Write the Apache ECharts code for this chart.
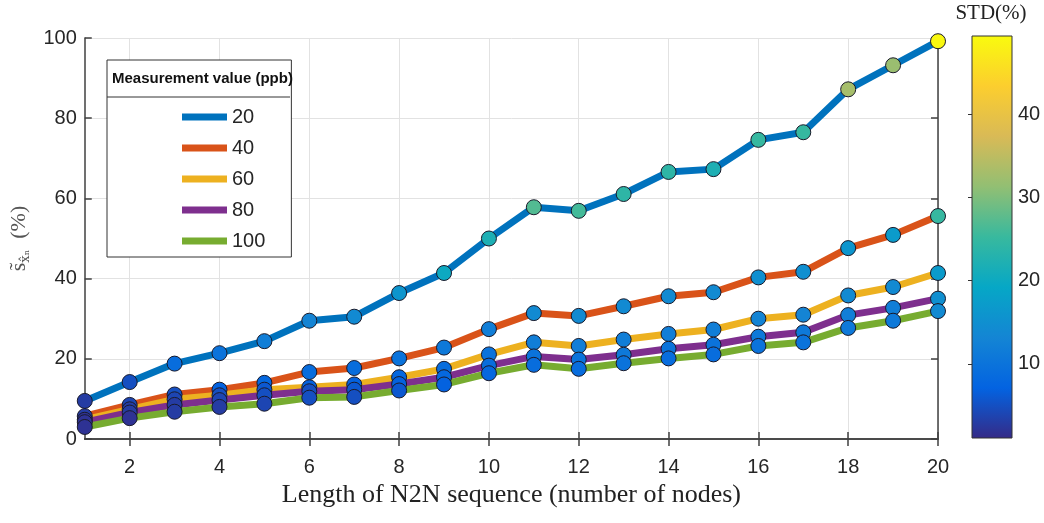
<!DOCTYPE html>
<html>
<head>
<meta charset="utf-8">
<script src="https://cdn.jsdelivr.net/npm/echarts@6/dist/echarts.min.js"></script>
<style>
html, body { margin: 0; padding: 0; background: #fff; }
#chart { width: 1044px; height: 523px; }
</style>
</head>
<body>
<div id="chart"></div>
<script>
// sequence length (number of nodes)
const nodes = [1, 2, 3, 4, 5, 6, 7, 8, 9, 10, 11, 12, 13, 14, 15, 16, 17, 18, 19, 20]
// measurement value (ppb) -> legend names
const levels = ['20', '40', '60', '80', '100']

// s~ (%) per level
const s20 = [9.5, 14.2, 18.8, 21.4, 24.4, 29.5, 30.5, 36.4, 41.4, 50.0, 57.8, 56.9, 61.1, 66.6, 67.3, 74.6, 76.5, 87.2, 93.2, 99.2]
const s40 = [5.7, 8.5, 11.1, 12.3, 14.0, 16.7, 17.7, 20.1, 22.8, 27.4, 31.4, 30.7, 33.1, 35.6, 36.6, 40.3, 41.7, 47.6, 50.9, 55.6]
const s60 = [4.8, 7.4, 9.9, 10.9, 12.3, 12.9, 13.6, 15.4, 17.5, 21.1, 24.1, 23.2, 24.8, 26.2, 27.3, 30.0, 31.0, 35.8, 37.9, 41.4]
const s80 = [4.2, 6.6, 8.5, 9.7, 10.9, 11.9, 12.3, 13.7, 15.4, 18.3, 20.6, 19.8, 21.0, 22.5, 23.5, 25.5, 26.6, 30.9, 32.7, 35.0]
const s100 = [3.0, 5.2, 6.8, 8.0, 8.8, 10.3, 10.5, 12.1, 13.6, 16.4, 18.5, 17.5, 18.9, 20.1, 21.1, 23.2, 24.1, 27.7, 29.5, 31.9]

// STD (%) per point, drives marker colour
const std20 = [3, 5, 9, 10, 12, 13, 14, 16, 20, 22, 27, 26, 24, 24, 22, 25, 25, 33, 32, 49]
const std40 = [3, 4, 5, 7, 8, 9, 9, 10, 11, 12, 14, 14, 14, 14, 14, 15, 15, 16, 17, 25]
const std60 = [2, 3, 4, 5, 6, 7, 7, 8, 9, 10, 12, 12, 12, 12, 12, 13, 13, 14, 14, 17]
const std80 = [2, 3, 3, 4, 5, 5, 6, 7, 8, 9, 10, 10, 11, 10, 10, 11, 11, 12, 12, 15]
const std100 = [2, 2, 3, 3, 4, 5, 5, 6, 7, 8, 9, 9, 10, 9, 9, 10, 10, 11, 11, 14]

const xTicks = [2, 4, 6, 8, 10, 12, 14, 16, 18, 20]
const stdTicks = [10, 20, 30, 40]
const stdMin = 1.1
const stdMax = 49.4

const lineColors = ['#0072BD', '#D95319', '#EDB120', '#7E2F8E', '#77AC30']
const parula = ['#352a87', '#0363e1', '#1485d4', '#06a7c6', '#38b99e', '#92bf73', '#d9ba56', '#fcce2e', '#f9fb0e']

const values = [s20, s40, s60, s80, s100]
const stds = [std20, std40, std60, std80, std100]

const chart = echarts.init(document.getElementById('chart'))

const lineSeries = levels.map((name, i) => ({
	name: name,
	type: 'line',
	symbol: 'none',
	clip: false,
	color: lineColors[i],
	lineStyle: { width: 7, color: lineColors[i] },
	z: 2,
	data: nodes.map((n, k) => [n, values[i][k]])
}))

const markerSeries = levels.map((name, i) => ({
	name: name + ' std',
	type: 'scatter',
	symbol: 'circle',
	symbolSize: 15,
	clip: false,
	z: 3,
	itemStyle: { borderColor: '#1a1a2a', borderWidth: 1, opacity: 1 },
	data: nodes.map((n, k) => [n, values[i][k], stds[i][k]])
}))

const barStops = parula.slice().reverse().map((c, i) => ({ offset: i / (parula.length - 1), color: c }))

chart.setOption({
	animation: false,
	backgroundColor: '#fff',
	title: {
		text: 'Measurement value (ppb)',
		left: 112,
		top: 71,
		textStyle: { fontFamily: 'Liberation Sans', fontSize: 15, fontWeight: 'bold', color: '#111' },
		padding: 0
	},
	legend: {
		data: levels.map(l => ({ name: l, icon: 'rect' })),
		orient: 'vertical',
		left: 107,
		top: 60,
		padding: [47, 26, 6, 75],
		itemWidth: 45,
		itemHeight: 7,
		itemGap: 11,
		backgroundColor: '#fff',
		borderColor: '#333',
		borderWidth: 1,
		textStyle: { fontFamily: 'Liberation Sans', fontSize: 20, color: '#262626' }
	},
	graphic: [{
		type: 'line',
		z: 10,
		shape: { x1: 107, y1: 97, x2: 290, y2: 97 },
		style: { stroke: '#333', lineWidth: 1 }
	}],
	grid: [{
		left: 83, right: 106, top: 38, bottom: 84,
		containLabel: false
	}, {
		left: 972, top: 36, width: 40, height: 402,
		show: true,
		backgroundColor: new echarts.graphic.LinearGradient(0, 0, 0, 1, barStops),
		borderColor: '#333',
		borderWidth: 1
	}],
	visualMap: {
		type: 'continuous',
		show: false,
		seriesIndex: [5, 6, 7, 8, 9],
		dimension: 2,
		min: stdMin,
		max: stdMax,
		inRange: { color: parula }
	},
	xAxis: [{
		type: 'value',
		gridIndex: 0,
		min: 1,
		max: 20,
		position: 'bottom',
		axisLine: { lineStyle: { color: '#404040', width: 1.5 } },
		axisTick: { inside: true, length: 7, customValues: xTicks, lineStyle: { color: '#404040', width: 1.5 } },
		axisLabel: { customValues: xTicks, fontFamily: 'Liberation Sans', fontSize: 20, color: '#262626', margin: 18 },
		splitLine: { show: true, lineStyle: { color: '#e2e2e2', width: 1 } },
		name: 'Length of N2N sequence (number of nodes)',
		nameLocation: 'middle',
		nameGap: 37,
		nameTextStyle: { fontFamily: 'Liberation Serif', fontSize: 26, color: '#222' }
	}, {
		type: 'value',
		gridIndex: 0,
		min: 1,
		max: 20,
		position: 'top',
		axisLine: { lineStyle: { color: '#404040', width: 1.5 } },
		axisTick: { inside: true, length: 7, customValues: xTicks, lineStyle: { color: '#404040', width: 1.5 } },
		axisLabel: { show: false },
		splitLine: { show: false }
	}, {
		type: 'value',
		gridIndex: 1,
		min: 0,
		max: 1,
		show: false
	}],
	yAxis: [{
		type: 'value',
		gridIndex: 0,
		min: 0,
		max: 100,
		interval: 20,
		position: 'left',
		axisLine: { show: true, lineStyle: { color: '#404040', width: 1.5 } },
		axisTick: { show: true, inside: true, length: 7, lineStyle: { color: '#404040', width: 1.5 } },
		axisLabel: { fontFamily: 'Liberation Sans', fontSize: 20, color: '#262626', margin: 8 },
		splitLine: { show: true, lineStyle: { color: '#e2e2e2', width: 1 } },
		name: '{a|s\u0303}{b|x\u0302\u2099}{a|  (%)}',
		nameLocation: 'middle',
		nameGap: 34,
		nameRotate: 90,
		nameTextStyle: {
			color: '#555',
			fontFamily: 'Liberation Serif',
			fontSize: 21,
			rich: {
				a: { fontFamily: 'Liberation Serif', fontSize: 22, color: '#555' },
				b: { fontFamily: 'DejaVu Serif', fontSize: 13, color: '#555', padding: [14, 0, 0, 0] }
			}
		}
	}, {
		type: 'value',
		gridIndex: 0,
		min: 0,
		max: 100,
		interval: 20,
		position: 'right',
		axisLine: { show: true, lineStyle: { color: '#404040', width: 1.5 } },
		axisTick: { show: true, inside: true, length: 7, lineStyle: { color: '#404040', width: 1.5 } },
		axisLabel: { show: false },
		splitLine: { show: false }
	}, {
		type: 'value',
		gridIndex: 1,
		min: stdMin,
		max: stdMax,
		position: 'right',
		axisLine: { show: false },
		axisTick: { show: true, inside: true, length: 4, customValues: stdTicks, lineStyle: { color: '#333' } },
		axisLabel: { customValues: stdTicks, fontFamily: 'Liberation Sans', fontSize: 20, color: '#262626', margin: 6 },
		splitLine: { show: false },
		name: 'STD(%)',
		nameLocation: 'end',
		nameGap: 12,
		nameTextStyle: { fontFamily: 'Liberation Serif', fontSize: 21, color: '#222', align: 'center', padding: [0, 0, 0, 38] }
	}],
	series: lineSeries.concat(markerSeries)
})
</script>
</body>
</html>
